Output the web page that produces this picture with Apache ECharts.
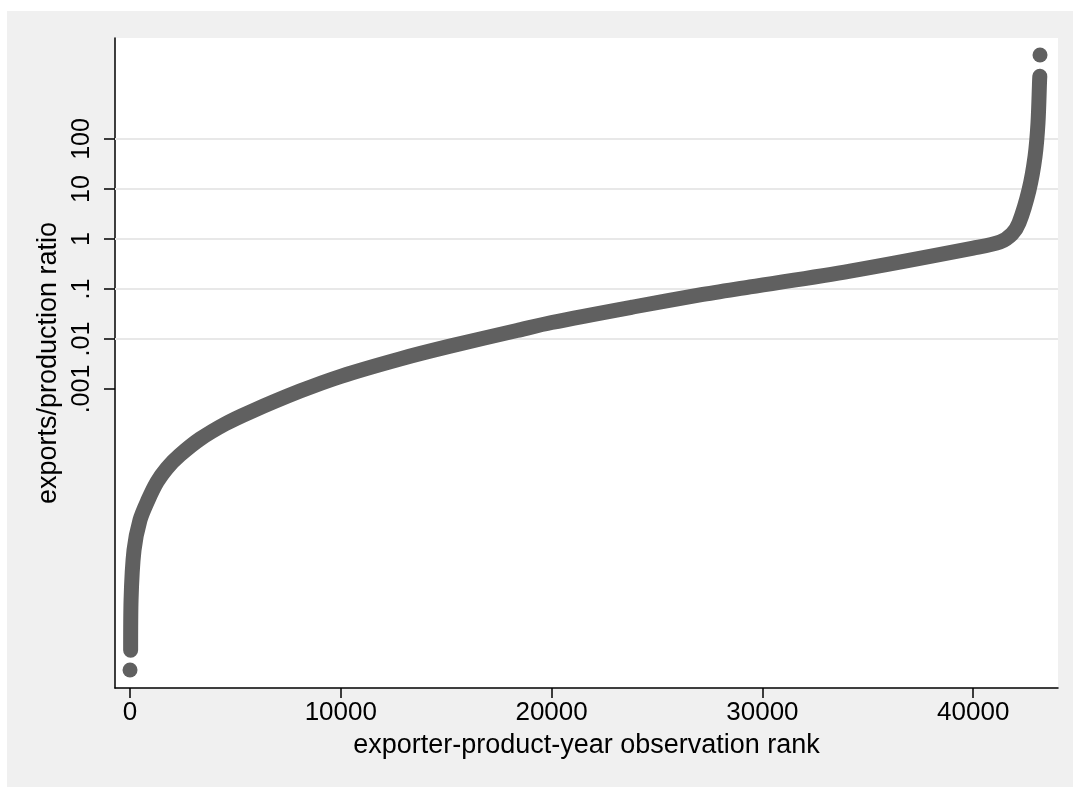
<!DOCTYPE html>
<html>
<head>
<meta charset="utf-8">
<script src="https://cdn.jsdelivr.net/npm/echarts@6/dist/echarts.min.js"></script>
<style>
  html, body { margin: 0; padding: 0; background: #ffffff; }
  #bg { position: absolute; left: 7px; top: 11px; width: 1066px; height: 776px; background: #f0f0f0; }
  #chart { position: absolute; left: 0; top: 0; width: 1073px; height: 787px; }
</style>
</head>
<body>
<div id="bg"></div>
<div id="chart"></div>
<script>
// Observation rank (x) and exports/production ratio (y)
const ranks = [30, 50, 190, 474, 854, 1281, 1755, 2372, 3321, 4507, 5693, 8065, 10000, 12808, 15180,
  18358, 20000, 23861, 27040, 29412, 34156, 40000, 41271, 41840, 42173, 42647, 42932, 43074, 43150, 43160];
const ratios = [6.0e-9, 6.0e-8, 6.0e-7, 2.4e-6, 6.0e-6, 1.38e-5, 2.63e-5, 4.8e-5, 1.0e-4, 2.0e-4, 3.47e-4, 9.1e-4,
  1.8e-3, 4.0e-3, 7.2e-3, 0.0148, 0.0214, 0.0437, 0.076, 0.11, 0.229, 0.66, 0.87,
  1.26, 2.1, 9.5, 44, 210, 1500, 1800];
// isolated extreme observations
const outlierRanks = [1, 43170];
const outlierRatios = [2.4e-9, 4800];

const xTickValues = [0, 10000, 20000, 30000, 40000];
const yTickValues = [0.001, 0.01, 0.1, 1, 10, 100];
const yTickLabels = ['.001', '.01', '.1', '1', '10', '100'];

const xTitle = 'exporter-product-year observation rank';
const yTitle = 'exports/production ratio';

const markColor = '#606060';
const font = 'Liberation Sans, Arial, Helvetica, sans-serif';

const lineData = ranks.map((r, i) => [r, ratios[i]]);
const outlierData = outlierRanks.map((r, i) => [r, outlierRatios[i]]);

const chart = echarts.init(document.getElementById('chart'), null, { renderer: 'canvas' });
chart.setOption({
  backgroundColor: 'transparent',
  animation: false,
  grid: {
    left: 115, top: 38, right: 15, bottom: 99,
    show: true, backgroundColor: '#ffffff', borderWidth: 0, containLabel: false
  },
  xAxis: {
    type: 'value',
    min: -712, max: 44023,
    name: xTitle,
    nameLocation: 'middle',
    nameGap: 44,
    nameTextStyle: { fontFamily: font, fontSize: 27, color: '#000' },
    axisLine: { show: true, onZero: false, lineStyle: { color: '#000', width: 1.5 } },
    axisTick: { show: true, length: 10, lineStyle: { color: '#000', width: 1.5 }, customValues: xTickValues },
    axisLabel: { show: true, margin: 12, fontFamily: font, fontSize: 26, color: '#000', customValues: xTickValues,
      formatter: v => String(v) },
    splitLine: { show: false }
  },
  yAxis: {
    type: 'log',
    logBase: 10,
    min: 1.05e-9, max: 10471,
    name: yTitle,
    nameLocation: 'middle',
    nameGap: 52,
    nameRotate: 90,
    nameTextStyle: { fontFamily: font, fontSize: 27, color: '#000' },
    axisLine: { show: true, onZero: false, lineStyle: { color: '#000', width: 1.5 } },
    axisTick: { show: true, length: 11, lineStyle: { color: '#000', width: 1.5 }, customValues: yTickValues },
    axisLabel: { show: true, rotate: 90, margin: 20, fontFamily: font, fontSize: 25, color: '#000',
      customValues: yTickValues,
      formatter: v => {
        for (let i = 0; i < yTickValues.length; i++) {
          if (Math.abs(Math.log10(v) - Math.log10(yTickValues[i])) < 1e-6) return yTickLabels[i];
        }
        return '';
      } },
    splitLine: { show: false }
  },
  series: [
    {
      type: 'line',
      z: 3,
      data: lineData,
      smooth: 0.3,
      showSymbol: false,
      symbol: 'none',
      lineStyle: { color: markColor, width: 15, cap: 'round', join: 'round' },
      silent: true,
      markLine: {
        z: 1,
        silent: true,
        symbol: ['none', 'none'],
        label: { show: false },
        lineStyle: { color: '#e8e8e8', width: 2, type: 'solid' },
        data: yTickValues.map(v => ({ yAxis: v }))
      }
    },
    {
      type: 'scatter',
      z: 3,
      data: outlierData,
      symbol: 'circle',
      symbolSize: 15,
      itemStyle: { color: markColor, opacity: 1 },
      silent: true
    }
  ]
});
</script>
</body>
</html>
